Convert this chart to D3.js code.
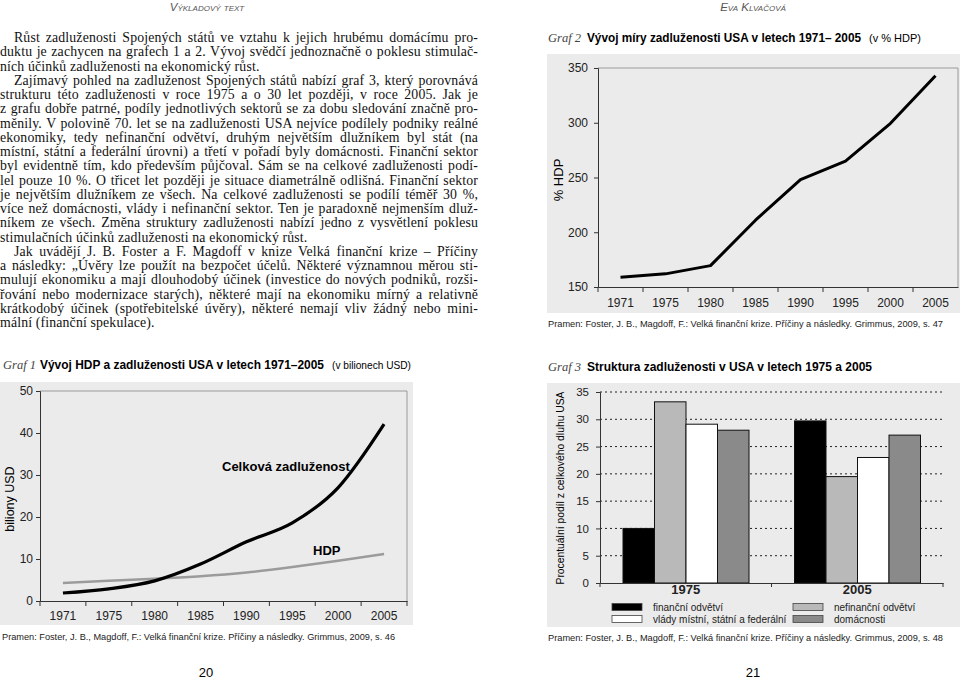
<!DOCTYPE html>
<html>
<head>
  <meta charset="utf-8">
  <script src="https://d3js.org/d3.v7.min.js"></script>
  <style>
    body { margin: 0; background: #fff; }
    svg text { font-family: "Liberation Sans", Arial, sans-serif; }
  </style>
</head>
<body>
<div id="page"></div>
<script>
// ---- data ----
var years = ["1971", "1975", "1980", "1985", "1990", "1995", "2000", "2005"];
// graf 1 (biliony USD)
var debtTotal = [1.9, 2.9, 4.8, 8.8, 14.1, 18.6, 27.0, 42.1];
var gdp = [4.3, 4.8, 5.3, 5.9, 6.8, 8.1, 9.6, 11.2];
var g1Ticks = [0, 10, 20, 30, 40, 50];
// graf 2 (% HDP)
var debtRatio = [159, 162, 169.5, 211, 248, 265, 299.5, 343];
var g2Ticks = [150, 200, 250, 300, 350];
// graf 3 (% of total debt)
var g3Years = ["1975", "2005"];
var sectors = ["finanční odvětví", "nefinanční odvětví", "vlády místní, státní a federální", "domácnosti"];
var share1975 = [10, 33.2, 29.1, 28.0];
var share2005 = [29.7, 19.5, 23.0, 27.1];
var g3Ticks = [0, 5, 10, 15, 20, 25, 30, 35];
var sectorColors = ["#000000", "#b9b9b9", "#ffffff", "#8a8a8a"];

// body text, one entry per printed line; p = starts paragraph, e = ends paragraph
var bodyLines = [
  {t: "Růst zadluženosti Spojených států ve vztahu k jejich hrubému domácímu pro-", p: 1},
  {t: "duktu je zachycen na grafech 1 a 2. Vývoj svědčí jednoznačně o poklesu stimulač-"},
  {t: "ních účinků zadluženosti na ekonomický růst.", e: 1},
  {t: "Zajímavý pohled na zadluženost Spojených států nabízí graf 3, který porovnává", p: 1},
  {t: "strukturu této zadluženosti v roce 1975 a o 30 let později, v roce 2005. Jak je"},
  {t: "z grafu dobře patrné, podíly jednotlivých sektorů se za dobu sledování značně pro-"},
  {t: "měnily. V polovině 70. let se na zadluženosti USA nejvíce podílely podniky reálné"},
  {t: "ekonomiky, tedy nefinanční odvětví, druhým největším dlužníkem byl stát (na"},
  {t: "místní, státní a federální úrovni) a třetí v pořadí byly domácnosti. Finanční sektor"},
  {t: "byl evidentně tím, kdo především půjčoval. Sám se na celkové zadluženosti podí-"},
  {t: "lel pouze 10 %. O třicet let později je situace diametrálně odlišná. Finanční sektor"},
  {t: "je největším dlužníkem ze všech. Na celkové zadluženosti se podílí téměř 30 %,"},
  {t: "více než domácnosti, vlády i nefinanční sektor. Ten je paradoxně nejmenším dluž-"},
  {t: "níkem ze všech. Změna struktury zadluženosti nabízí jedno z vysvětlení poklesu"},
  {t: "stimulačních účinků zadluženosti na ekonomický růst.", e: 1},
  {t: "Jak uvádějí J. B. Foster a F. Magdoff v knize Velká finanční krize – Příčiny", p: 1},
  {t: "a následky: „Úvěry lze použít na bezpočet účelů. Některé významnou měrou sti-"},
  {t: "mulují ekonomiku a mají dlouhodobý účinek (investice do nových podniků, rozši-"},
  {t: "řování nebo modernizace starých), některé mají na ekonomiku mírný a relativně"},
  {t: "krátkodobý účinek (spotřebitelské úvěry), některé nemají vliv žádný nebo mini-"},
  {t: "mální (finanční spekulace).", e: 1}
];

var source = "Pramen: Foster, J. B., Magdoff, F.: Velká finanční krize. Příčiny a následky. Grimmus, 2009, s. ";

var svg = d3.select("#page").append("svg")
  .attr("width", 960)
  .attr("height", 681);

// ---- running heads & page numbers ----
svg.append("text").attr("x", 207).attr("y", 11)
  .attr("text-anchor", "middle")
  .style("font-size", "11.5px").style("font-style", "italic")
  .style("font-variant", "small-caps").style("fill", "#555")
  .text("Výkladový text");
svg.append("text").attr("x", 753).attr("y", 11)
  .attr("text-anchor", "middle")
  .style("font-size", "11.5px").style("font-style", "italic")
  .style("font-variant", "small-caps").style("fill", "#555")
  .text("Eva Klvačová");
svg.append("text").attr("x", 206).attr("y", 677).attr("text-anchor", "middle")
  .style("font-size", "13px").text("20");
svg.append("text").attr("x", 753).attr("y", 677).attr("text-anchor", "middle")
  .style("font-size", "13px").text("21");

// ---- body text, justified by word spacing ----
svg.selectAll(".body").data(bodyLines).enter().append("text")
  .attr("class", "body")
  .attr("x", function(d) { return d.p ? 14 : 0; })
  .attr("y", function(d, i) { return 42 + i * 14.25; })
  .style("font-family", "'Liberation Serif', 'Times New Roman', serif")
  .style("font-size", "13.8px")
  .style("letter-spacing", "0.15px")
  .style("fill", "#111")
  .text(function(d) { return d.t; })
  .each(function(d) {
    if (d.e) return;
    var target = 478 - (d.p ? 14 : 0);
    var natural = this.getComputedTextLength();
    var spaces = d.t.split(" ").length - 1;
    d3.select(this).style("word-spacing", ((target - natural) / spaces) + "px");
  });

// helper for chart titles
function title(x, y, num, bold, bold0, bold1, rest, rest0, rest1) {
  svg.append("text").attr("x", x).attr("y", y)
    .style("font-family", "'Liberation Serif', serif").style("font-style", "italic")
    .style("font-size", "12.5px").style("fill", "#444")
    .text("Graf " + num);
  svg.append("text").attr("x", bold0).attr("y", y)
    .attr("textLength", bold1 - bold0).attr("lengthAdjust", "spacingAndGlyphs")
    .style("font-weight", "bold").style("font-size", "12px")
    .text(bold);
  if (rest) {
    svg.append("text").attr("x", rest0).attr("y", y)
      .attr("textLength", rest1 - rest0).attr("lengthAdjust", "spacingAndGlyphs")
      .style("font-size", "11.5px")
      .text(rest);
  }
}
function sourceLine(x, y, page, w) {
  svg.append("text").attr("x", x).attr("y", y)
    .attr("textLength", w).attr("lengthAdjust", "spacingAndGlyphs")
    .style("font-size", "9.5px").style("fill", "#222")
    .text(source + page);
}

// =================== GRAF 1 ===================
title(3, 369, "1", "Vývoj HDP a zadluženosti USA v letech 1971–2005", 40, 324, "(v bilionech USD)", 332, 411);
svg.append("rect").attr("x", 0).attr("y", 382).attr("width", 413).attr("height", 243).attr("fill", "#ebebeb");

var x1 = d3.scaleBand().domain(years).range([40, 407]);
var y1 = d3.scaleLinear().domain([0, 50]).range([601, 391]);

// frame top & right
svg.append("path").attr("d", "M40," + y1(50) + "H407V" + y1(0))
  .attr("fill", "none").attr("stroke", "#9a9a9a").attr("stroke-width", 1);

var g1y = svg.append("g").attr("transform", "translate(40,0)")
  .call(d3.axisLeft(y1).tickValues(g1Ticks).tickSize(4).tickPadding(3));
var g1x = svg.append("g").attr("transform", "translate(0," + y1(0) + ")")
  .call(d3.axisBottom(x1).tickSize(0).tickPadding(10));
g1x.selectAll(".tick").each(function(d) {
  d3.select(this).append("line").attr("x1", -x1.bandwidth() / 2).attr("x2", -x1.bandwidth() / 2)
    .attr("y1", 0).attr("y2", 5).attr("stroke", "#333");
});
g1x.append("line").attr("x1", 407).attr("x2", 407).attr("y1", 0).attr("y2", 5).attr("stroke", "#333");

var line1 = d3.line()
  .x(function(d, i) { return x1(years[i]) + x1.bandwidth() / 2; })
  .y(function(d) { return y1(d); })
  .curve(d3.curveMonotoneX);
svg.append("path").datum(gdp).attr("d", line1)
  .attr("fill", "none").attr("stroke", "#9b9b9b").attr("stroke-width", 2.5);
svg.append("path").datum(debtTotal).attr("d", line1)
  .attr("fill", "none").attr("stroke", "#000").attr("stroke-width", 3.2).attr("stroke-linejoin", "round");

svg.append("text").attr("x", 222).attr("y", 471)
  .style("font-weight", "bold").style("font-size", "13px").text("Celková zadluženost");
svg.append("text").attr("x", 313).attr("y", 555)
  .style("font-weight", "bold").style("font-size", "13px").text("HDP");
svg.append("text").attr("transform", "translate(14,499) rotate(-90)")
  .attr("text-anchor", "middle").style("font-size", "12.5px").text("biliony USD");

sourceLine(2, 640, "46", 393);

// =================== GRAF 2 ===================
title(548, 42, "2", "Vývoj míry zadluženosti USA v letech 1971– 2005", 587, 861, "(v % HDP)", 869, 921);
svg.append("rect").attr("x", 547).attr("y", 54).attr("width", 413).attr("height", 259).attr("fill", "#ebebeb");

var x2 = d3.scaleBand().domain(years).range([598, 958]);
var y2 = d3.scaleLinear().domain([150, 350]).range([287, 68]);

svg.append("path").attr("d", "M598," + y2(350) + "H958V" + y2(150))
  .attr("fill", "none").attr("stroke", "#9a9a9a").attr("stroke-width", 1);

var g2y = svg.append("g").attr("transform", "translate(598,0)")
  .call(d3.axisLeft(y2).tickValues(g2Ticks).tickSize(4).tickPadding(6));
var g2x = svg.append("g").attr("transform", "translate(0," + y2(150) + ")")
  .call(d3.axisBottom(x2).tickSize(0).tickPadding(11));
g2x.selectAll(".tick").each(function(d) {
  d3.select(this).append("line").attr("x1", -x2.bandwidth() / 2).attr("x2", -x2.bandwidth() / 2)
    .attr("y1", 0).attr("y2", 5).attr("stroke", "#333");
});

var line2 = d3.line()
  .x(function(d, i) { return x2(years[i]) + x2.bandwidth() / 2; })
  .y(function(d) { return y2(d); });
svg.append("path").datum(debtRatio).attr("d", line2)
  .attr("fill", "none").attr("stroke", "#000").attr("stroke-width", 3).attr("stroke-linejoin", "round");

svg.append("text").attr("transform", "translate(563,180) rotate(-90)")
  .attr("text-anchor", "middle").style("font-size", "13px").text("% HDP");

sourceLine(548, 327, "47", 395);

// =================== GRAF 3 ===================
title(548, 371, "3", "Struktura zadluženosti v USA v letech 1975 a 2005", 587, 872);
svg.append("rect").attr("x", 547).attr("y", 383).attr("width", 413).attr("height", 244).attr("fill", "#ebebeb");

var x3 = d3.scaleBand().domain(g3Years).range([600, 943]);
var x3s = d3.scaleBand().domain(sectors).range([23, 149]);
var y3 = d3.scaleLinear().domain([0, 35]).range([583, 392]);

// dotted grid
svg.selectAll(".grid3").data(g3Ticks.slice(1)).enter().append("line")
  .attr("x1", 600).attr("x2", 943)
  .attr("y1", function(d) { return y3(d); }).attr("y2", function(d) { return y3(d); })
  .attr("stroke", "#222").attr("stroke-width", 1).attr("stroke-dasharray", "2,3");

var groups = [share1975, share2005];
svg.selectAll(".grp").data(groups).enter().append("g")
  .attr("transform", function(d, i) { return "translate(" + x3(g3Years[i]) + ",0)"; })
  .selectAll("rect").data(function(d) { return d; }).enter().append("rect")
    .attr("x", function(d, j) { return x3s(sectors[j]); })
    .attr("y", function(d) { return y3(d); })
    .attr("width", x3s.bandwidth())
    .attr("height", function(d) { return y3(0) - y3(d); })
    .attr("fill", function(d, j) { return sectorColors[j]; })
    .attr("stroke", "#111").attr("stroke-width", 1);

var g3y = svg.append("g").attr("transform", "translate(600,0)")
  .call(d3.axisLeft(y3).tickValues(g3Ticks).tickSize(4).tickPadding(7));
var g3x = svg.append("g").attr("transform", "translate(0," + y3(0) + ")")
  .call(d3.axisBottom(x3).tickSize(0).tickPadding(2));
g3x.selectAll(".tick text").style("font-weight", "bold").style("font-size", "13px");
g3x.selectAll(".tick").each(function(d) {
  d3.select(this).append("line").attr("x1", -x3.bandwidth() / 2).attr("x2", -x3.bandwidth() / 2)
    .attr("y1", 0).attr("y2", 4).attr("stroke", "#333");
});
g3x.append("line").attr("x1", 943).attr("x2", 943).attr("y1", 0).attr("y2", 4).attr("stroke", "#333");

svg.append("text").attr("transform", "translate(564,488) rotate(-90)")
  .attr("text-anchor", "middle").attr("textLength", 193).attr("lengthAdjust", "spacingAndGlyphs")
  .style("font-size", "11.5px").text("Procentuální podíl z celkového dluhu USA");

// legend: column order finanční, nefinanční / vlády, domácnosti
var legendPos = [[612, 607], [793, 607], [612, 619], [793, 619]];
var leg = svg.selectAll(".leg").data(sectors).enter().append("g")
  .attr("transform", function(d, i) { return "translate(" + legendPos[i][0] + "," + legendPos[i][1] + ")"; });
leg.append("rect").attr("x", 0).attr("y", -3.5).attr("width", 30).attr("height", 7)
  .attr("fill", function(d, i) { return sectorColors[i]; })
  .attr("stroke", "#444").attr("stroke-width", 0.8);
leg.append("text").attr("x", 41).attr("y", 3.5)
  .style("font-size", "10px").style("fill", "#222")
  .text(function(d) { return d; });

sourceLine(548, 641, "48", 395);

// axis styling
svg.selectAll(".tick text").style("fill", "#222");
[g1y, g2y, g3y, g1x, g2x, g3x].forEach(function(g) {
  g.select(".domain").attr("stroke", "#333");
  g.selectAll(".tick line").attr("stroke", "#333");
});
[g1y, g1x, g2y, g2x].forEach(function(g) {
  g.selectAll(".tick text").style("font-size", "12px");
});
g3y.selectAll(".tick text").style("font-size", "11.5px");
</script>
</body>
</html>
